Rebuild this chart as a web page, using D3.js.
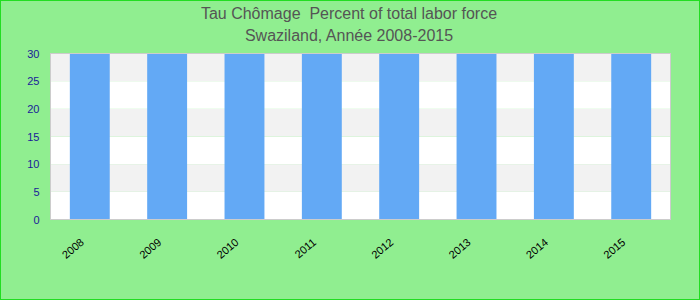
<!DOCTYPE html>
<html><head><meta charset="utf-8">
<script src="https://cdn.jsdelivr.net/npm/d3@7"></script>
<style>body{margin:0;padding:0;}svg{display:block;}</style>
</head><body>
<svg id="c" width="700" height="300"></svg>
<script>
const categories = ["2008","2009","2010","2011","2012","2013","2014","2015"];
const values = [30, 30, 30, 30, 30, 30, 30, 30];
const yTicks = [0, 5, 10, 15, 20, 25, 30];
const titleLines = ["Tau Chômage  Percent of total labor force", "Swaziland, Année 2008-2015"];

const W = 700, H = 300;
const m = {left: 50.5, right: 29.5, top: 53.5, bottom: 80.5};
const svg = d3.select("#c");
svg.append("rect").attr("x",0.5).attr("y",0.5).attr("width",W-1).attr("height",H-1)
  .attr("fill","#90ee90").attr("stroke","#22dd22");

const x = d3.scaleBand().domain(categories).range([m.left, W-m.right]).paddingInner(0.484).paddingOuter(0.25);
const y = d3.scaleLinear().domain([0,30]).range([H-m.bottom, m.top]);

// stripes
const g = svg.append("g");
for (let i = 0; i < yTicks.length-1; i++) {
  g.append("rect").attr("x", m.left).attr("width", W-m.right-m.left)
    .attr("y", y(yTicks[i+1])).attr("height", y(yTicks[i]) - y(yTicks[i+1]))
    .attr("fill", i % 2 === 0 ? "#ffffff" : "#f2f2f2");
}
g.selectAll(".bar").data(values).enter().append("rect")
  .attr("x",(d,i)=>x(categories[i])).attr("width",x.bandwidth())
  .attr("y",d=>y(d)).attr("height",d=>y(0)-y(d)).attr("fill","#63a9f5");
svg.append("rect").attr("x",m.left).attr("y",m.top).attr("width",W-m.right-m.left).attr("height",y(0)-m.top)
  .attr("fill","none").attr("stroke","#cccccc");

// y axis
const ya = svg.append("g").attr("transform",`translate(${m.left},0)`)
  .call(d3.axisLeft(y).tickValues(yTicks).tickSize(0).tickPadding(11));
ya.select(".domain").remove();
ya.selectAll("text").attr("fill","#1a1a99").style("font-family","Liberation Sans, Arial, sans-serif").style("font-size","11px");

// x axis
const xa = svg.append("g").attr("transform",`translate(0,${H-m.bottom})`)
  .call(d3.axisBottom(x).tickSize(0));
xa.select(".domain").remove();
xa.selectAll("text").attr("fill","#000").style("font-family","Liberation Sans, Arial, sans-serif").style("font-size","11px")
  .attr("text-anchor","end").attr("dy",null).attr("y",0)
  .attr("transform","translate(-5,24) rotate(-40)");

svg.selectAll(".title").data(titleLines).enter().append("text")
  .attr("x", 349).attr("y",(d,i)=>19+i*22).attr("text-anchor","middle")
  .attr("xml:space","preserve").style("white-space","pre")
  .attr("fill","#555").style("font-family","Liberation Sans, Arial, sans-serif").style("font-size","16px").text(d=>d);
</script>
</body></html>
